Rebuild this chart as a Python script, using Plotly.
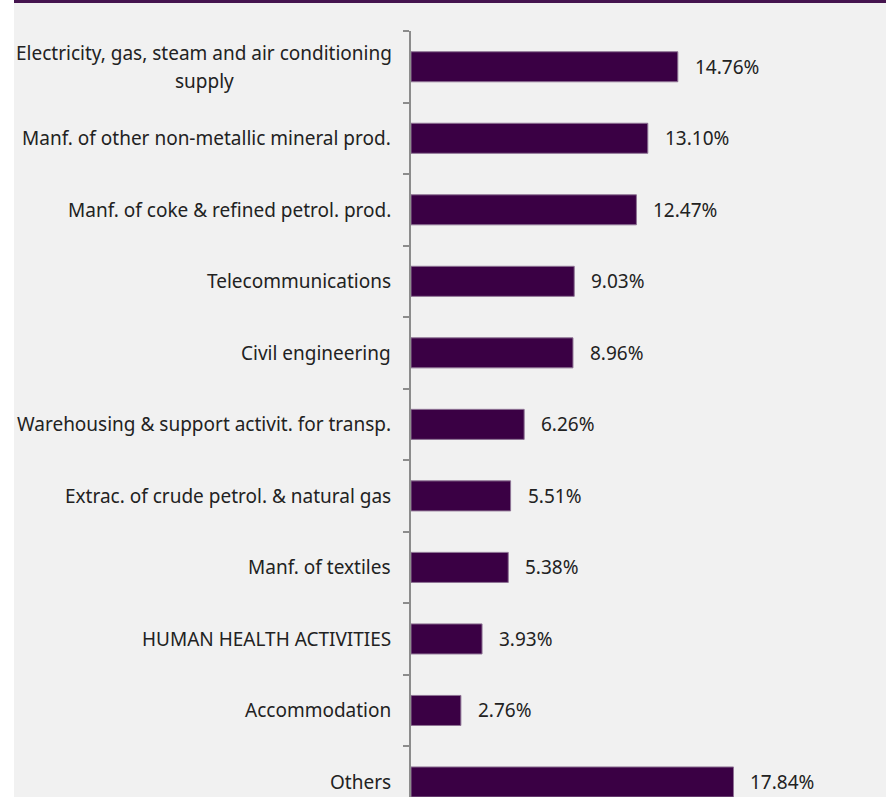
import plotly.graph_objects as go

# Share of total by economic activity
categories = [
    "Electricity, gas, steam and air conditioning<br>supply",
    "Manf. of other non-metallic mineral prod.",
    "Manf. of coke & refined petrol. prod.",
    "Telecommunications",
    "Civil engineering",
    "Warehousing & support activit. for transp.",
    "Extrac. of crude petrol. & natural gas",
    "Manf. of textiles",
    "HUMAN HEALTH ACTIVITIES",
    "Accommodation",
    "Others",
]
shares = [14.76, 13.10, 12.47, 9.03, 8.96, 6.26, 5.51, 5.38, 3.93, 2.76, 17.84]

BAR = "#3a0044"
PANEL = "#f1f1f1"
AXIS = "#8c8c8c"
FONT = "Noto Sans"
FS = 19
TXT = "#222222"

W, H = 891, 797
ML, MR, MT, MB = 411, 10, 31, 0
pw = W - ML - MR
ph = H - MT - MB

idx = list(range(len(categories)))

fig = go.Figure(
    go.Bar(
        x=shares,
        y=idx,
        orientation="h",
        marker=dict(color=BAR, line=dict(color="#8e7394", width=1)),
        hoverinfo="skip",
    )
)

# value labels to the right of each bar
for i, v in zip(idx, shares):
    fig.add_annotation(
        x=v, y=i, xref="x", yref="y", text=f"{v:.2f}%",
        showarrow=False, xanchor="left", yanchor="middle", xshift=15,
        font=dict(family=FONT, size=FS, color=TXT),
    )

# category labels left of the axis; wrapped labels get one annotation per line
LINE_GAP = 28
for i, c in zip(idx, categories):
    lines = c.split("<br>")
    n = len(lines)
    for k, line in enumerate(lines):
        fig.add_annotation(
            x=0, y=i, xref="paper", yref="y", text=line,
            showarrow=False, xanchor="center" if n > 1 else "right",
            yanchor="middle",
            xshift=-207 if n > 1 else -18,
            yshift=((n - 1) / 2 - k) * LINE_GAP,
            font=dict(family=FONT, size=FS, color=TXT),
        )

def px_x(p):
    return (p - ML) / pw

def px_y(p):
    return (H - MB - p) / ph

# light panel and the dark rule along its top edge
fig.add_shape(type="rect", xref="paper", yref="paper", layer="below",
              x0=px_x(14), x1=px_x(886), y0=px_y(H + 5), y1=px_y(0),
              fillcolor=PANEL, line=dict(width=0))
fig.add_shape(type="rect", xref="paper", yref="paper", layer="above",
              x0=px_x(14), x1=px_x(886), y0=px_y(3), y1=px_y(0),
              fillcolor="#45144f", line=dict(width=0))

fig.update_layout(
    width=W, height=H,
    margin=dict(l=ML, r=MR, t=MT, b=MB, pad=0),
    paper_bgcolor="white",
    plot_bgcolor="rgba(0,0,0,0)",
    bargap=0.58,
    showlegend=False,
    font=dict(family=FONT, size=FS, color=TXT),
)
fig.update_xaxes(range=[0, 26], visible=False, fixedrange=True)
boundaries = [i - 0.5 for i in idx]
fig.update_yaxes(
    range=[10.21, -0.5],
    tickmode="array", tickvals=boundaries, ticktext=[""] * len(boundaries),
    ticks="outside", ticklen=6, tickwidth=2,
    tickcolor=AXIS, showline=True, linecolor=AXIS, linewidth=2,
    showgrid=False, zeroline=False, fixedrange=True,
)

fig.write_html("out.html")
